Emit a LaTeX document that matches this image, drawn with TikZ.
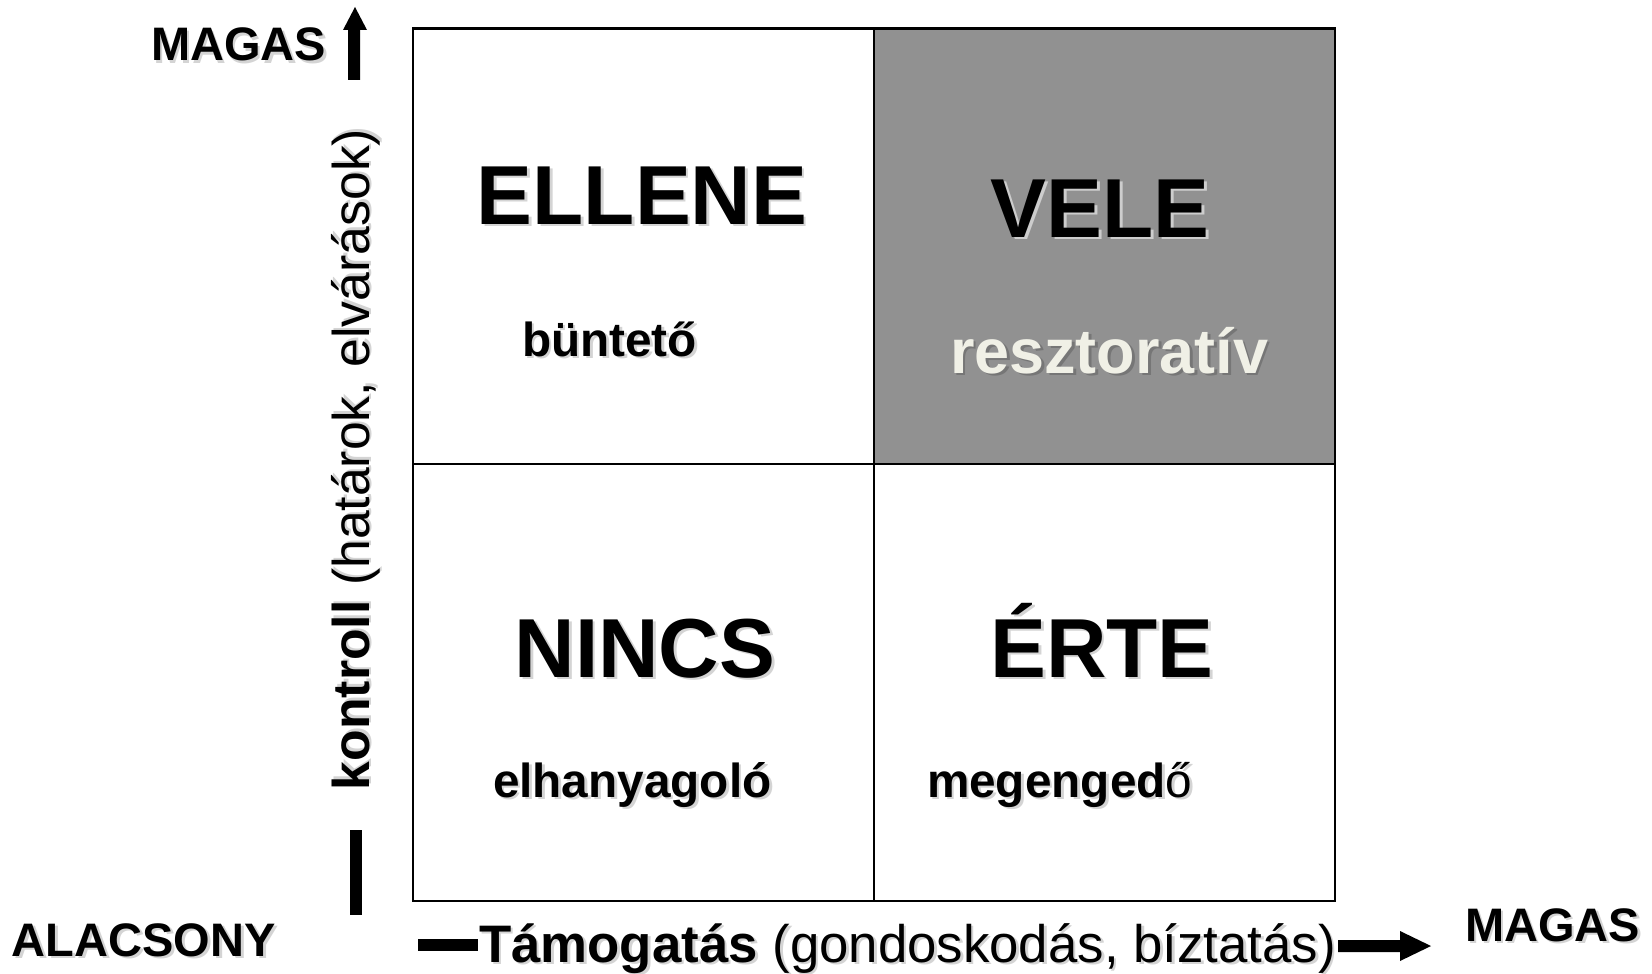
\documentclass[tikz,border=0pt]{standalone}
\usepackage{fontspec}
\setmainfont{Liberation Sans}
\definecolor{cellgray}{RGB}{145,145,145}
\definecolor{offwhite}{RGB}{240,240,230}
\definecolor{shdwhite}{RGB}{205,205,205}
\definecolor{shdlight}{RGB}{212,212,212}
\definecolor{shddark}{RGB}{118,118,118}
\newcommand\withshadow[2]{\leavevmode\rlap{\kern2pt\raisebox{-2pt}{\textcolor{#1}{#2}}}#2}
\tikzset{
  txt/.style={inner sep=0pt, outer sep=0pt, text=black},
  axislbl/.style={txt, font=\fontsize{35.25}{40}\selectfont\bfseries},
  axistitle/.style={txt, font=\fontsize{39.6}{44}\selectfont},
  quadtitle/.style={txt, anchor=base, font=\fontsize{62.8}{70}\selectfont\bfseries},
  quadsub/.style={txt, anchor=base west, font=\fontsize{35.8}{40}\selectfont\bfseries},
  gridline/.style={line width=2.1pt, draw=black},
  solidarrow/.style={fill=black, draw=none}
}
\begin{document}
\begin{tikzpicture}[x=0.75pt,y=-0.75pt]
\useasboundingbox (0,0) rectangle (1652,974);
% grid
\fill[cellgray] (874,28.5) rectangle (1335,464);
\draw[gridline] (413,28.5) rectangle (1335,901);
\draw[gridline] (874,28.5) -- (874,901);
\draw[gridline] (413,464) -- (1335,464);
% quadrant titles
\node[quadtitle] (ellene) at (642,224) {\withshadow{shdlight}{ELLENE}};
\node[quadtitle] (vele) at (1100,237) {\withshadow{shdwhite}{VELE}};
\node[quadtitle] (nincs) at (645,677) {\withshadow{shdlight}{NINCS}};
\node[quadtitle] (erte) at (1102,677) {\withshadow{shdlight}{ÉRTE}};
% subtitles
\node[quadsub] (buntet) at (522,356) {\withshadow{shdlight}{büntető}};
\node[quadsub, text=offwhite, font=\fontsize{47.2}{52}\selectfont\bfseries] (reszt) at (950,373) {\withshadow{shddark}{resztoratív}};
\node[quadsub] (elhany) at (493,797) {\withshadow{shdlight}{elhanyagoló}};
\node[quadsub] (megeng) at (927,797) {\withshadow{shdlight}{megenged\textmd{ő}}};
% axis labels
\node[axislbl, anchor=base west] (magastop) at (151,61) {\withshadow{shdlight}{MAGAS}};
\node[axislbl, anchor=base west] (alacs) at (12,956) {\withshadow{shdlight}{ALACSONY}};
\node[axislbl, anchor=base west] (magasright) at (1465,941) {\withshadow{shdlight}{MAGAS}};
\node[axistitle, font=\fontsize{38.8}{44}\selectfont, anchor=base west, rotate=90] (kontroll) at (369,790) {\withshadow{shdlight}{\textbf{kontroll} (határok, elvárások)}};
\node[axistitle, anchor=base west] (tamog) at (479,962) {\withshadow{shdlight}{\textbf{Támogatás} (gondoskodás, bíztatás)}};
% axis arrows and bars
\fill[solidarrow] (348,80) -- (348,30) -- (343,30) -- (355,7) -- (367,30) -- (360,30) -- (360,80) -- cycle;
\fill[solidarrow] (350,830) rectangle (362,915);
\fill[solidarrow] (418,939) rectangle (478,951);
\fill[solidarrow] (1338,940) -- (1400,940) -- (1400,931) -- (1431,946) -- (1400,961) -- (1400,952) -- (1338,952) -- cycle;
\end{tikzpicture}
\end{document}
